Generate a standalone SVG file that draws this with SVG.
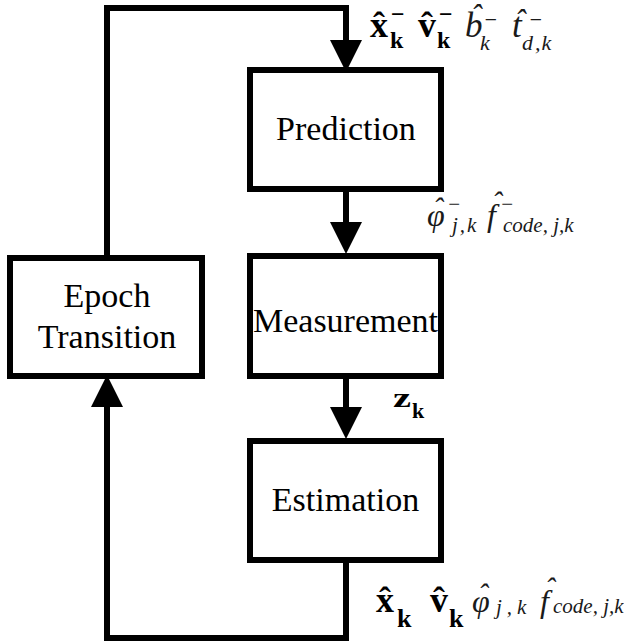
<svg xmlns="http://www.w3.org/2000/svg" width="624" height="641" viewBox="0 0 624 641">
<style>
.box{fill:#fff;stroke:#000;stroke-width:6}
.ln{fill:none;stroke:#000;stroke-width:6;stroke-linejoin:miter}
.lbl{font-family:"Liberation Serif","Times New Roman",serif;font-size:34px;fill:#000;text-anchor:middle}
.b{font-family:"Liberation Serif","Times New Roman",serif;font-weight:bold;fill:#000}
.i{font-family:"Liberation Serif","Times New Roman",serif;font-style:italic;fill:#1a1a1a}
</style>
<defs>
<polygon id="ah" points="-16,-32 16,-32 0,0" fill="#000"/>
</defs>
<g id="connectors">
<path class="ln" d="M107,258 V8 H346 V42"/>
<use href="#ah" x="346" y="72"/>
<path class="ln" d="M346,189 V228"/>
<use href="#ah" x="346" y="254"/>
<path class="ln" d="M346,376 V414"/>
<use href="#ah" x="346" y="439"/>
<path class="ln" d="M346,560 V638 H107 V404"/>
<use href="#ah" transform="translate(107,375) rotate(180)"/>
</g>
<g id="prediction">
<rect class="box" x="250" y="70" width="191" height="119"/>
<text class="lbl" x="346" y="140">Prediction</text>
</g>
<g id="measurement">
<rect class="box" x="250" y="256" width="191" height="120"/>
<text class="lbl" x="345.5" y="332">Measurement</text>
</g>
<g id="estimation">
<rect class="box" x="250" y="441" width="191" height="119"/>
<text class="lbl" x="345.5" y="511">Estimation</text>
</g>
<g id="epoch">
<rect class="box" x="10" y="258" width="192" height="118"/>
<text class="lbl" x="107" y="307" font-size="32">Epoch</text>
<text class="lbl" x="107" y="348" font-size="32">Transition</text>
</g>
<g id="label-top">
<text class="b" x="370" y="37" font-size="36">x</text>
<text class="b" x="379" y="37" font-size="36" text-anchor="middle">ˆ</text>
<text class="b" x="390" y="48" font-size="24">k</text>
<text class="b" x="391" y="22" font-size="24">−</text>
<text class="b" x="418" y="37" font-size="36">v</text>
<text class="b" x="427" y="37" font-size="36" text-anchor="middle">ˆ</text>
<text class="b" x="437" y="48" font-size="24">k</text>
<text class="b" x="439" y="22" font-size="24">−</text>
<text class="i" x="465" y="37" font-size="35">b</text>
<text class="i" x="476" y="26" font-size="32" text-anchor="middle">ˆ</text>
<text class="i" x="480" y="50" font-size="22">k</text>
<text class="i" x="483" y="27" font-size="22">−</text>
<text class="i" x="512" y="37" font-size="35">t</text>
<text class="i" x="520" y="31" font-size="32" text-anchor="middle">ˆ</text>
<text class="i" x="522" y="50" font-size="22">d</text>
<text class="i" x="535" y="50" font-size="22" letter-spacing="1">,k</text>
<text class="i" x="528" y="27" font-size="22">−</text>
</g>
<g id="label-mid">
<text class="i" x="427" y="226" font-size="32">φ</text>
<text class="i" x="438" y="218" font-size="30" text-anchor="middle">ˆ</text>
<text class="i" x="447" y="211" font-size="21">−</text>
<text class="i" x="452" y="232" font-size="21" letter-spacing="2">j,k</text>
<text class="i" x="487" y="226" font-size="32">f</text>
<text class="i" x="497" y="212" font-size="30" text-anchor="middle">ˆ</text>
<text class="i" x="500" y="211" font-size="21">−</text>
<text class="i" x="503" y="232" font-size="21" xml:space="preserve">code, j,k</text>
</g>
<g id="label-z">
<text class="b" x="393" y="407" font-size="28" textLength="18" lengthAdjust="spacingAndGlyphs">z</text>
<text class="b" x="412" y="418" font-size="22">k</text>
</g>
<g id="label-bottom">
<text class="b" x="376" y="612" font-size="36">x</text>
<text class="b" x="385" y="612" font-size="36" text-anchor="middle">ˆ</text>
<text class="b" x="397" y="627" font-size="26">k</text>
<text class="b" x="430" y="612" font-size="36">v</text>
<text class="b" x="439" y="612" font-size="36" text-anchor="middle">ˆ</text>
<text class="b" x="449" y="627" font-size="26">k</text>
<text class="i" x="472" y="612" font-size="32">φ</text>
<text class="i" x="483" y="604" font-size="30" text-anchor="middle">ˆ</text>
<text class="i" x="496" y="614" font-size="21" letter-spacing="5">j,k</text>
<text class="i" x="540" y="612" font-size="32">f</text>
<text class="i" x="550" y="598" font-size="30" text-anchor="middle">ˆ</text>
<text class="i" x="553" y="613" font-size="21" xml:space="preserve">code, j,k</text>
</g>
</svg>
